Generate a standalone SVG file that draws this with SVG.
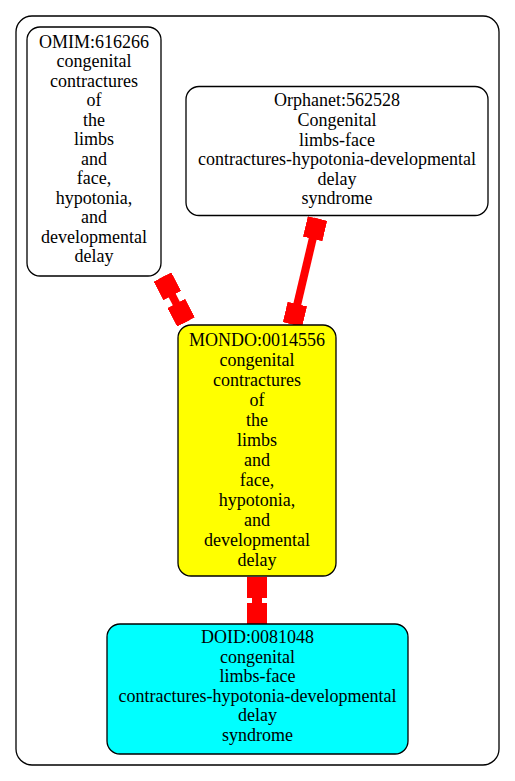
<svg xmlns="http://www.w3.org/2000/svg" width="515" height="781" viewBox="0 0 515 781">
<style>
.node{stroke:#000;stroke-width:1.3}
.t{font-family:"Liberation Serif","Times New Roman",serif;font-size:18px;fill:#000;text-anchor:middle}
.edge{stroke:#ff0000;stroke-width:8;fill:none}
</style>
<defs>
<marker id="box" viewBox="-21 -10 21 20" refX="0" refY="0" markerWidth="21" markerHeight="20" orient="auto-start-reverse" markerUnits="userSpaceOnUse">
<rect x="-21" y="-10" width="21" height="20" fill="#ff0000"/>
</marker>
</defs>
<rect x="16" y="16" width="483" height="749" rx="16" fill="#fff" stroke="#000" stroke-width="1.3"/>
<g id="edges">
<line class="edge" x1="162.5" y1="277" x2="186" y2="322" marker-start="url(#box)" marker-end="url(#box)"/>
<line class="edge" x1="317.5" y1="218.5" x2="292.5" y2="324.5" marker-start="url(#box)" marker-end="url(#box)"/>
<line class="edge" x1="257" y1="577" x2="257" y2="624" style="stroke-width:10" marker-start="url(#box)" marker-end="url(#box)"/>
</g>
<g id="omim">
<rect class="node" x="27" y="27" width="134" height="249" rx="13" fill="#fff"/>
<text class="t" x="94" y="47.5">OMIM:616266</text>
<text class="t" x="94" y="67">congenital</text>
<text class="t" x="94" y="86.5">contractures</text>
<text class="t" x="94" y="106">of</text>
<text class="t" x="94" y="125.5">the</text>
<text class="t" x="94" y="145">limbs</text>
<text class="t" x="94" y="164.5">and</text>
<text class="t" x="94" y="184">face,</text>
<text class="t" x="94" y="203.5">hypotonia,</text>
<text class="t" x="94" y="223">and</text>
<text class="t" x="94" y="242.5">developmental</text>
<text class="t" x="94" y="262">delay</text>
</g>
<g id="orphanet">
<rect class="node" x="186" y="86.5" width="302" height="129" rx="13" fill="#fff"/>
<text class="t" x="337" y="106.3">Orphanet:562528</text>
<text class="t" x="337" y="125.9">Congenital</text>
<text class="t" x="337" y="145.5">limbs-face</text>
<text class="t" x="337" y="165.1">contractures-hypotonia-developmental</text>
<text class="t" x="337" y="184.7">delay</text>
<text class="t" x="337" y="204.3">syndrome</text>
</g>
<g id="mondo">
<rect class="node" x="178" y="325" width="158" height="251" rx="13" fill="#ffff00"/>
<text class="t" x="257" y="346">MONDO:0014556</text>
<text class="t" x="257" y="366">congenital</text>
<text class="t" x="257" y="386">contractures</text>
<text class="t" x="257" y="406">of</text>
<text class="t" x="257" y="426">the</text>
<text class="t" x="257" y="446">limbs</text>
<text class="t" x="257" y="466">and</text>
<text class="t" x="257" y="486">face,</text>
<text class="t" x="257" y="506">hypotonia,</text>
<text class="t" x="257" y="526">and</text>
<text class="t" x="257" y="546">developmental</text>
<text class="t" x="257" y="566">delay</text>
</g>
<g id="doid">
<rect class="node" x="107" y="624" width="301" height="130" rx="13" fill="#00ffff"/>
<text class="t" x="257.5" y="643.3">DOID:0081048</text>
<text class="t" x="257.5" y="662.8">congenital</text>
<text class="t" x="257.5" y="682.3">limbs-face</text>
<text class="t" x="257.5" y="701.8">contractures-hypotonia-developmental</text>
<text class="t" x="257.5" y="721.3">delay</text>
<text class="t" x="257.5" y="740.8">syndrome</text>
</g>
</svg>
